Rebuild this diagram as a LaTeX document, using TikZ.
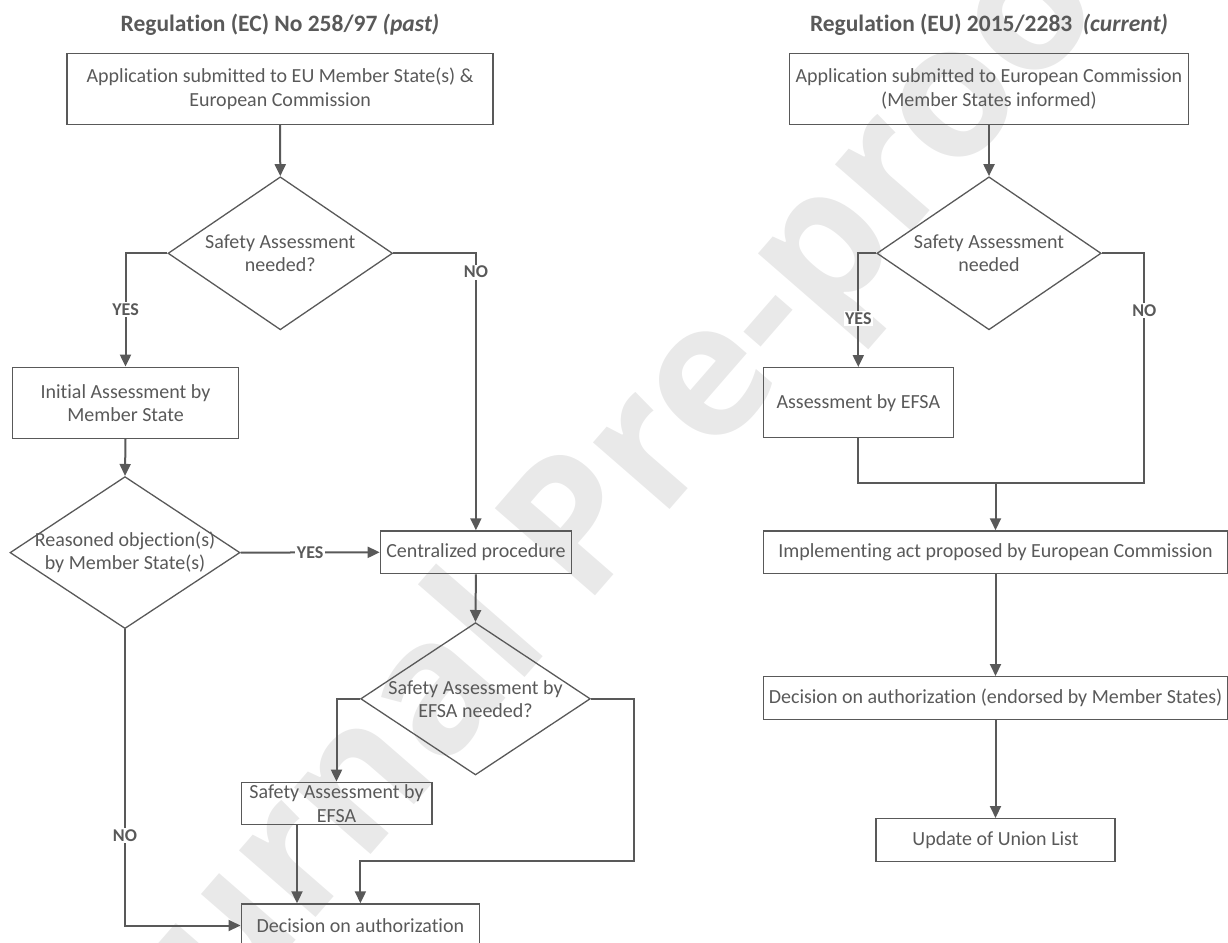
\documentclass[tikz,border=0pt]{standalone}
\usepackage{fontspec}
\setmainfont{Carlito}[Ligatures=NoCommon]
\newfontfamily\wmfont{Open Sans}
\usetikzlibrary{shapes.geometric,arrows.meta}
\definecolor{lc}{HTML}{595959}
\definecolor{tc}{HTML}{595959}
\definecolor{wm}{HTML}{E9E9E9}
\begin{document}
\begin{tikzpicture}[x=1pt,y=-1pt,
  every node/.style={text=tc, font=\fontsize{20}{23.3}\selectfont},
  box/.style={draw=lc, line width=1.4pt, rectangle, inner sep=0pt, align=center},
  dia/.style={draw=lc, line width=1.3pt, diamond, inner sep=0pt},
  dlab/.style={align=center, inner sep=0pt},
  conn/.style={draw=lc, line width=2pt},
  arr/.style={conn, -{Triangle[length=12pt,width=11pt]}},
  lbl/.style={font=\bfseries\fontsize{18}{20}\selectfont, fill=white, inner sep=1.5pt},
  ttl/.style={font=\bfseries\fontsize{23.5}{26}\selectfont}
]
\useasboundingbox (0,0) rectangle (1228,942);
% watermark
\node[rotate=49, text=wm, font=\wmfont\bfseries\fontsize{186}{186}\selectfont, anchor=base, inner sep=0pt] (wmk) at (632,554) {Journal Pre-proof};

% titles
\node[ttl] (T1) at (280,25) {Regulation (EC) No 258/97 \textit{(past)}};
\node[ttl] (T2) at (989,25) {Regulation (EU) 2015/2283~~\textit{(current)}};

% left flow
\node[box, minimum width=426pt, minimum height=71pt] (A1) at (280.1,88.8) {Application submitted to EU Member State(s) \&\\European Commission};
\node[dia, minimum width=224.6pt, minimum height=153pt] (D1) at (280.3,253.3) {};
\node[dlab] (D1t) at (D1.center) {Safety Assessment\\needed?};
\node[box, minimum width=225.7pt, minimum height=71pt] (B1) at (125.5,402.8) {Initial Assessment by\\Member State};
\node[dia, minimum width=230pt, minimum height=152pt] (D2) at (125,552.6) {};
\node[dlab] (D2t) at (D2.center) {Reasoned objection(s)\\by Member State(s)};
\node[box, minimum width=191pt, minimum height=42.7pt] (C) at (475.9,552.3) {Centralized procedure};
\node[dia, minimum width=229.7pt, minimum height=152.3pt] (D3) at (475.5,698.8) {};
\node[dlab] (D3t) at (D3.center) {Safety Assessment by\\EFSA needed?};
\node[box, minimum width=190.6pt, minimum height=42.4pt] (E) at (336.5,803.5) {Safety Assessment by\\EFSA};
\node[box, minimum width=238.4pt, minimum height=43pt] (F) at (360.4,925.5) {Decision on authorization};

\coordinate (k1) at (634,861);
\coordinate (k3) at (297,0);

\draw[arr] (A1.south) -- (D1.north);
\draw[arr] (D1.west) -| node[lbl, pos=0.75] (y1) {YES} (B1.north);
\draw[arr] (D1.east) -| node[lbl, pos=0.534] (n1) {NO} (C.north);
\draw[arr] (B1.south) -- (D2.north);
\draw[arr] (D2.east) -- node[lbl, pos=0.5] (y2) {YES} (C.west);
\draw[arr] (C.south) -- (D3.north);
\draw[arr] (D3.west) -| (E.north);
\draw[arr] (D3.east) -| (k1) -| (F.north);
\draw[arr] (E.south -| k3) -- (F.north -| k3);
\draw[arr] (D2.south) |- node[lbl, pos=0.348] (n2) {NO} (F.west);

% right flow
\node[box, minimum width=399.4pt, minimum height=71pt] (A2) at (989,88.8) {Application submitted to European Commission\\(Member States informed)};
\node[dia, minimum width=224.3pt, minimum height=153pt] (D4) at (989,253.3) {};
\node[dlab] (D4t) at (D4.center) {Safety Assessment\\needed};
\node[box, minimum width=190pt, minimum height=70pt] (G) at (858.3,402.7) {Assessment by EFSA};
\node[box, minimum width=463.7pt, minimum height=42.7pt] (H) at (995.5,552.3) {Implementing act proposed by European Commission};
\node[box, minimum width=463.7pt, minimum height=43pt] (I) at (995.5,698.2) {Decision on authorization (endorsed by Member States)};
\node[box, minimum width=238.7pt, minimum height=43pt] (J) at (995.5,840.2) {Update of Union List};

\coordinate (k4) at (1144.3,483.3);

\draw[arr] (A2.south) -- (D4.north);
\draw[arr] (D4.west) -| node[lbl, pos=0.787] (y4) {YES} (G.north);
\draw[conn] (D4.east) -| node[lbl, pos=0.625] (n4) {NO} (k4) -- (G.south |- k4) -- (G.south);
\draw[arr] (H.north |- k4) -- (H.north);
\draw[arr] (H.south) -- (I.north);
\draw[arr] (I.south) -- (J.north);
\end{tikzpicture}
\end{document}
